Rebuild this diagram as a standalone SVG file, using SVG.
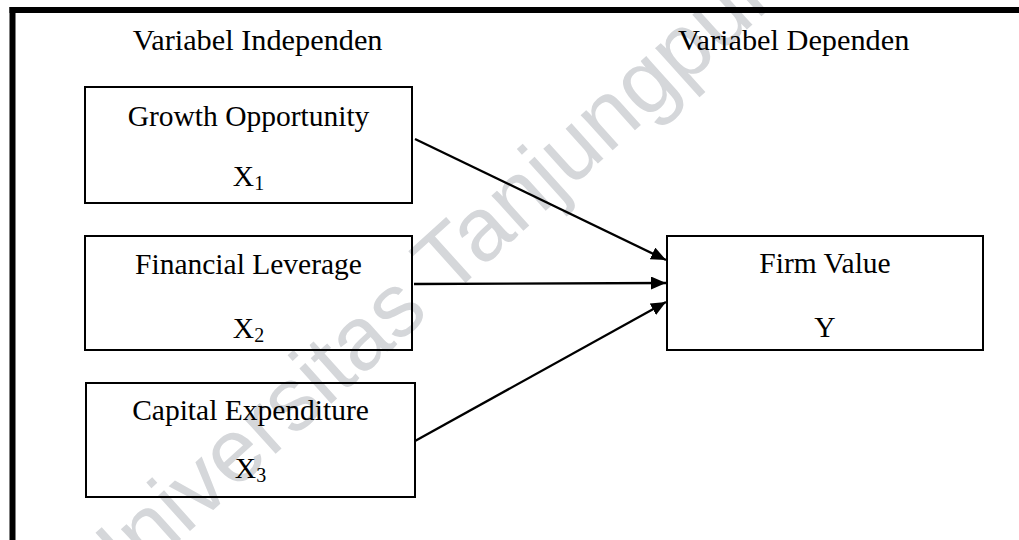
<svg xmlns="http://www.w3.org/2000/svg" width="1019" height="540" viewBox="0 0 1019 540">
<style>
.t{font-family:"Liberation Serif","Times New Roman",serif;font-size:29.5px;fill:#000}
.h{font-size:30.3px}
.c{text-anchor:middle}
.box{fill:none;stroke:#000;stroke-width:2}
.edge{stroke:#000;stroke-width:2.3;fill:none}
.wm{font-family:"Liberation Sans",Arial,sans-serif;font-size:90px;fill:#d5d7da}
</style>
<defs>
<marker id="ah" markerUnits="userSpaceOnUse" markerWidth="16" markerHeight="14" refX="15" refY="6.5" orient="auto">
<path d="M0,0 L15,6.5 L0,13 Z" fill="#000"/>
</marker>
</defs>
<rect width="1019" height="540" fill="#fff"/>
<text class="wm" transform="translate(100,612) rotate(-42)">Universitas Tanjungpura</text>
<g id="frame">
<rect x="9.5" y="7" width="1010" height="6" fill="#000"/>
<rect x="9.5" y="7" width="6" height="533" fill="#000"/>
</g>
<g id="headers">
<text class="t h" x="132.7" y="50">Variabel Independen</text>
<text class="t h" x="678" y="50">Variabel Dependen</text>
</g>
<g id="node-x1">
<rect class="box" x="85" y="87" width="327" height="116"/>
<text class="t c" x="248.5" y="125.5">Growth Opportunity</text>
<text class="t c" x="248.5" y="186">X<tspan font-size="20" dy="3.5">1</tspan></text>
</g>
<g id="node-x2">
<rect class="box" x="85" y="236" width="327" height="114"/>
<text class="t c" x="248.5" y="273.5">Financial Leverage</text>
<text class="t c" x="248.5" y="338">X<tspan font-size="20" dy="3.5">2</tspan></text>
</g>
<g id="node-x3">
<rect class="box" x="86" y="383" width="329" height="114"/>
<text class="t c" x="250.5" y="420">Capital Expenditure</text>
<text class="t c" x="250.5" y="478">X<tspan font-size="20" dy="3.5">3</tspan></text>
</g>
<g id="node-y">
<rect class="box" x="667" y="236" width="316" height="114"/>
<text class="t c" x="825" y="272.7">Firm Value</text>
<text class="t c" x="825" y="337.3">Y</text>
</g>
<g id="connectors">
<line class="edge" x1="415" y1="139" x2="666" y2="260" marker-end="url(#ah)"/>
<line class="edge" x1="414" y1="284" x2="666" y2="283" marker-end="url(#ah)"/>
<line class="edge" x1="415" y1="441" x2="666" y2="302" marker-end="url(#ah)"/>
</g>
</svg>
